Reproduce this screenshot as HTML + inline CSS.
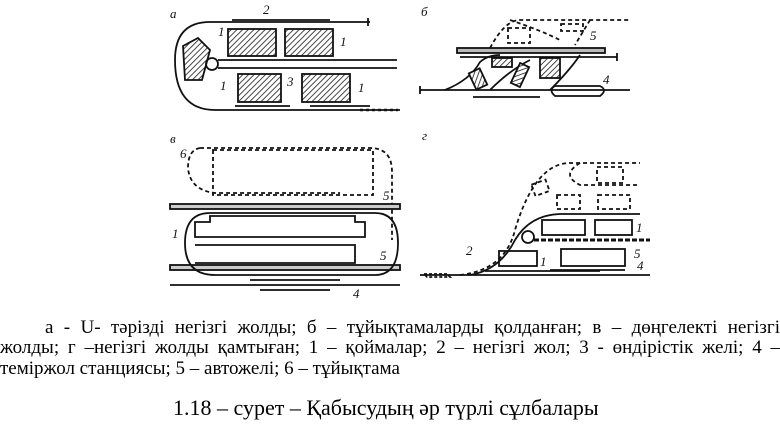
<!DOCTYPE html>
<html><head><meta charset="utf-8"><style>
html,body{margin:0;padding:0;background:#fff;width:780px;height:446px;overflow:hidden}
.t{position:absolute;font-family:"Liberation Serif",serif;font-size:19px;color:#000;line-height:21px;white-space:nowrap}
</style></head><body>
<svg width="780" height="300" style="position:absolute;left:0;top:0" xmlns="http://www.w3.org/2000/svg">
<defs><pattern id="h" width="4" height="4" patternUnits="userSpaceOnUse" patternTransform="rotate(45)"><rect width="4" height="4" fill="#fff"/><line x1="0" y1="0" x2="0" y2="4" stroke="#333" stroke-width="1.8"/></pattern></defs>
<g fill="none" stroke="#111" stroke-width="1.8" font-family="Liberation Serif" font-style="italic" font-size="13">
<text x="170" y="18" stroke="none" fill="#111">a</text>
<path d="M370 22 H210 Q175 22 175 60 Q175 110 215 110 H400"/>
<line x1="368" y1="18" x2="368" y2="26"/>
<path d="M232 20 H330 M235 106 H290 M310 106 H370"/>
<rect x="228" y="29" width="48" height="27" fill="url(#h)"/>
<rect x="285" y="29" width="48" height="27" fill="url(#h)"/>
<rect x="238" y="74" width="43" height="28" fill="url(#h)"/>
<rect x="302" y="74" width="48" height="28" fill="url(#h)"/>
<path d="M183 46 L198 38 L210 50 L202 80 L185 80 Z" fill="url(#h)"/>
<circle cx="212" cy="64" r="6"/>
<path d="M218 60 H397 M218 68 H397"/>
<path d="M360 110 H398" stroke-dasharray="3,3" stroke-width="2.5"/>
<text x="263" y="14" stroke="none" fill="#111">2</text>
<text x="218" y="36" stroke="none" fill="#111">1</text><text x="340" y="46" stroke="none" fill="#111">1</text>
<text x="220" y="90" stroke="none" fill="#111">1</text><text x="287" y="86" stroke="none" fill="#111">3</text><text x="358" y="92" stroke="none" fill="#111">1</text>
<text x="421" y="16" stroke="none" fill="#111">б</text>
<rect x="457" y="48" width="148" height="5" fill="#bbb"/>
<path d="M460 57 H617 M617 53 V61"/>
<path d="M420 90 H630 M420 86 V94"/>
<path d="M473 97 H540"/>
<path d="M555 86 H600 Q608 90 600 96 H555 Q548 90 555 86Z"/>
<path d="M445 90 Q470 80 480 62 Q488 55 500 55 M490 90 Q510 70 530 60 M550 90 Q570 70 580 55"/>
<path d="M490 48 Q505 20 520 20 H630 M510 20 Q540 30 560 40 M590 20 L575 45" stroke-dasharray="4,3"/>
<rect x="508" y="28" width="22" height="15" stroke-dasharray="4,3"/>
<rect x="561" y="24" width="22" height="7" stroke-dasharray="4,3"/>
<rect x="492" y="58" width="20" height="9" fill="url(#h)"/>
<rect x="540" y="58" width="20" height="20" fill="url(#h)"/>
<rect x="472" y="70" width="12" height="18" transform="rotate(-25 478 79)" fill="url(#h)"/>
<rect x="515" y="64" width="10" height="22" transform="rotate(25 520 75)" fill="url(#h)"/>
<text x="590" y="40" stroke="none" fill="#111">5</text><text x="603" y="84" stroke="none" fill="#111">4</text>
<text x="170" y="143" stroke="none" fill="#111">в</text>
<path d="M200 148 H370 Q392 148 392 172 V240" stroke-dasharray="4,3"/>
<path d="M200 148 Q188 150 188 168 Q190 190 215 193 H340" stroke-dasharray="4,3"/>
<rect x="213" y="150" width="160" height="45" stroke-dasharray="4,3"/>
<rect x="170" y="204" width="230" height="5" fill="#ccc"/>
<rect x="170" y="265" width="230" height="5" fill="#ccc"/>
<path d="M210 213 H375 Q398 213 398 243 Q398 275 375 275 H215 Q185 275 185 243 Q185 213 210 213Z"/>
<path d="M195 222 H210 V216 H355 V222 H365 V237 H195Z"/>
<path d="M195 245 H355 V263 H195"/>
<path d="M170 285 H400 M250 280 H340 M260 290 H330"/>
<text x="180" y="158" stroke="none" fill="#111">6</text><text x="383" y="200" stroke="none" fill="#111">5</text>
<text x="172" y="238" stroke="none" fill="#111">1</text><text x="380" y="260" stroke="none" fill="#111">5</text><text x="353" y="298" stroke="none" fill="#111">4</text>
<text x="422" y="140" stroke="none" fill="#111">г</text>
<path d="M420 275 H650"/>
<path d="M470 275 Q500 270 515 240 Q530 215 560 214 H640"/>
<path d="M460 275 Q505 270 515 230 Q535 163 570 163 H640" stroke-dasharray="4,3"/>
<path d="M580 163 Q560 175 580 185 H640" stroke-dasharray="4,3"/>
<rect x="597" y="167" width="26" height="16" stroke-dasharray="4,3"/>
<rect x="557" y="195" width="23" height="14" stroke-dasharray="4,3"/>
<rect x="598" y="195" width="32" height="14" stroke-dasharray="4,3"/>
<rect x="533" y="182" width="15" height="12" transform="rotate(-20 540 188)" stroke-dasharray="4,3"/>
<rect x="542" y="220" width="43" height="15"/>
<rect x="595" y="220" width="37" height="15"/>
<rect x="499" y="251" width="38" height="15"/>
<rect x="561" y="249" width="64" height="17"/>
<circle cx="528" cy="237" r="6"/>
<path d="M534 240 H650" stroke-width="3" stroke-dasharray="5,2"/>
<path d="M485 271 H600 M550 270 H625"/>
<path d="M424 274 H447 L450 277 H427Z" stroke-dasharray="3,2"/>
<text x="466" y="255" stroke="none" fill="#111">2</text><text x="540" y="266" stroke="none" fill="#111">1</text>
<text x="636" y="232" stroke="none" fill="#111">1</text><text x="634" y="258" stroke="none" fill="#111">5</text><text x="637" y="270" stroke="none" fill="#111">4</text>
</g>
</svg>
<div class="t" style="left:0;top:317px;width:780px;text-align:justify;text-align-last:justify;text-indent:45px;white-space:normal;height:21px">а - U- тәрізді негізгі жолды; б – тұйықтамаларды қолданған; в – дөңгелекті негізгі</div>
<div class="t" style="left:0;top:337px;width:780px;text-align:justify;text-align-last:justify;white-space:normal;height:21px">жолды; г –негізгі жолды қамтыған; 1 – қоймалар; 2 – негізгі жол; 3 - өндірістік желі; 4 –</div>
<div class="t" style="left:0;top:358px">теміржол станциясы; 5 – автожелі; 6 – тұйықтама</div>
<div class="t" style="left:173px;top:396px;font-size:22px;line-height:24px">1.18 – сурет – Қабысудың әр түрлі сұлбалары</div>
</body></html>
